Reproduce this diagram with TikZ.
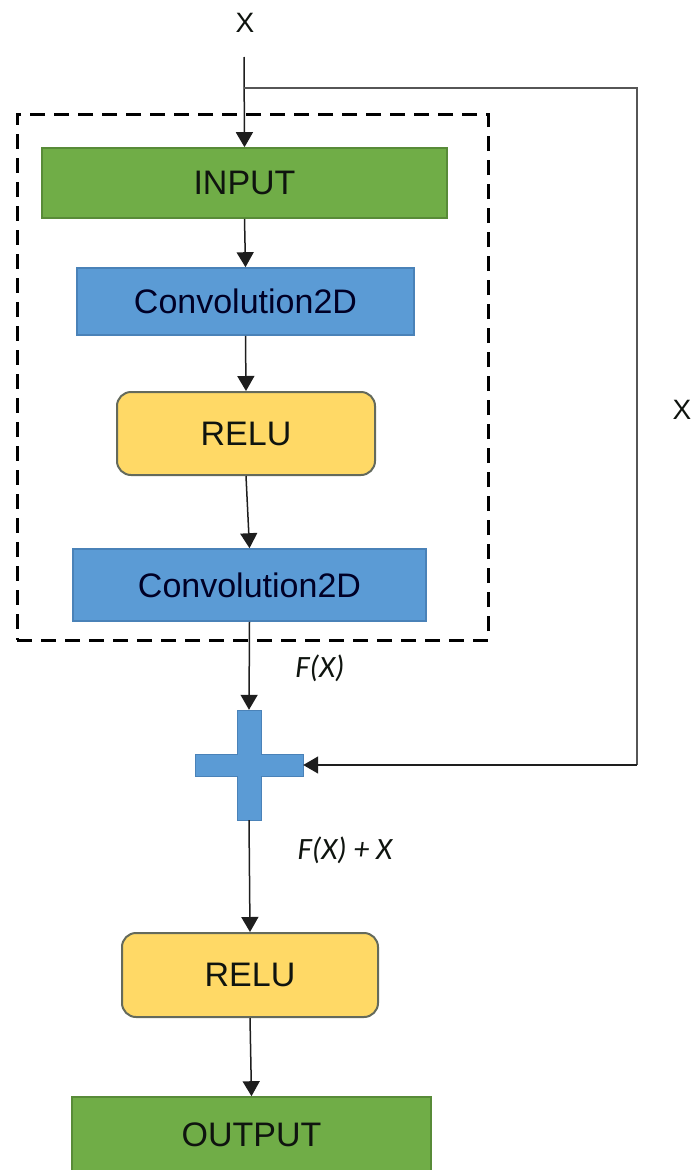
\documentclass[tikz,border=0pt]{standalone}
\usepackage{fontspec}
\setmainfont{Liberation Sans}
\newfontfamily\labelfont{Carlito}
\usetikzlibrary{arrows.meta}

\definecolor{boxgreen}{HTML}{70AD47}
\definecolor{edgegreen}{HTML}{588B38}
\definecolor{boxblue}{HTML}{5B9BD5}
\definecolor{edgeblue}{HTML}{4A82B8}
\definecolor{boxyellow}{HTML}{FFD966}
\definecolor{edgeyellow}{HTML}{646A5C}
\definecolor{wire}{HTML}{1E1E1E}
\definecolor{textdark}{HTML}{0F140F}

\tikzset{
  layer/.style={draw, line width=1.6pt, inner sep=0pt, text=textdark,
    font=\fontsize{34}{40}\selectfont},
  greenbox/.style={layer, fill=boxgreen, draw=edgegreen},
  bluebox/.style={layer, fill=boxblue, draw=edgeblue, text=black!85!blue},
  actbox/.style={layer, fill=boxyellow, draw=edgeyellow, line width=2pt, rounded corners=14pt},
  arr/.style={draw=wire, line width=1.5pt, -{Triangle[width=17pt,length=15pt]}},
  wireline/.style={draw=wire!75, line width=1.5pt},
  sig/.style={font=\fontsize{28}{32}\selectfont, text=textdark},
  sumlabel/.style={font=\labelfont\itshape\fontsize{31}{36}\selectfont, text=textdark},
  frame/.style={draw=black, line width=3pt, dash pattern=on 15pt off 9pt, inner sep=0pt}
}

\begin{document}
\begin{tikzpicture}[x=1pt, y=-1pt]
  \useasboundingbox (0,0) rectangle (695,1170);
  \clip (0,0) rectangle (695,1170);

  % residual block frame
  \node[frame, minimum width=471pt, minimum height=526pt] (block) at (252.5,377) {};

  % main path
  \node[sig] (xtop) at (245,23) {X};
  \coordinate (xstart) at (244,57);
  \coordinate (split) at (244,88);

  \node[greenbox, minimum width=405pt, minimum height=70pt] (in) at (244.5,183) {INPUT};
  \node[bluebox, minimum width=337pt, minimum height=67pt] (conva) at (245.5,301.5) {Convolution2D};
  \node[actbox, minimum width=258pt, minimum height=83pt] (relua) at (246,433.5) {RELU};
  \node[bluebox, minimum width=353pt, minimum height=72pt] (convb) at (249.5,585) {Convolution2D};

  % addition
  \node[inner sep=0pt, minimum width=108pt, minimum height=110pt] (plus) at (249,765) {};
  \fill[boxblue] (237,710) -- (261,710) -- (261,754) -- (303,754) -- (303,776)
    -- (261,776) -- (261,820) -- (237,820) -- (237,776) -- (195,776)
    -- (195,754) -- (237,754) -- cycle;
  \draw[edgeblue, line width=1pt] (237,710) -- (261,710) -- (261,754) -- (303,754) -- (303,776)
    -- (261,776) -- (261,820) -- (237,820) -- (237,776) -- (195,776)
    -- (195,754) -- (237,754) -- cycle;

  \node[actbox, minimum width=256pt, minimum height=84pt] (relub) at (250,975) {RELU};
  \node[greenbox, minimum width=359pt, minimum height=76pt] (out) at (251.5,1135) {OUTPUT};

  % labels
  \node[sig] (xskip) at (682,410) {X};
  \node[sumlabel] (fx) at (320,668) {F(X)};
  \node[sumlabel] (fxx) at (345,850) {F(X) + X};

  % connectors
  \draw[arr] (xstart) -- (in.north);
  \draw[arr] (in.south) -- (conva.north);
  \draw[arr] (conva.south) -- (relua.north);
  \draw[arr] (relua.south) -- (convb.north);
  \draw[arr] (convb.south) -- (plus.north);
  \draw[arr] (plus.south) -- (relub.north);
  \draw[arr] (relub.south) -- (out.north);

  % identity shortcut
  \coordinate (skiptop) at (637,88);
  \coordinate (skipbot) at (637,765);
  \draw[wireline] (split) -- (skiptop) -- (skipbot);
  \draw[arr] (skipbot) -- (plus.east);
\end{tikzpicture}
\end{document}
